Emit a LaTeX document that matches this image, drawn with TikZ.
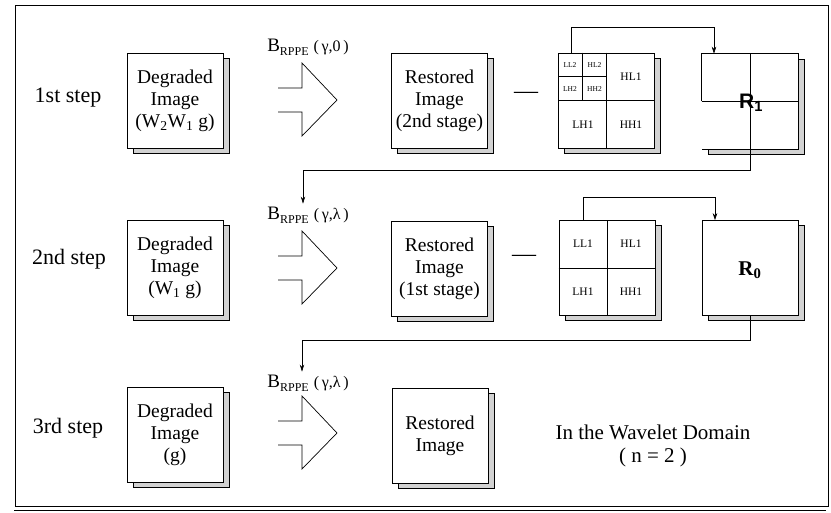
\documentclass[tikz,border=0pt]{standalone}
\usepackage{fontspec}
\setmainfont{Liberation Serif}
\newfontfamily\sansR{Liberation Sans}
\usetikzlibrary{shadows,arrows.meta,calc}
\begin{document}
\begin{tikzpicture}[x=1pt,y=-1pt,
  pagebox/.style={draw, fill=white, line width=0.6pt, inner sep=0pt,
    minimum width=96pt, minimum height=95pt, align=center,
    font=\fontsize{19.5}{22}\selectfont,
    general shadow={shadow xshift=6pt, shadow yshift=-5pt, fill=gray!35, draw=black, line width=0.8pt}},
  steplabel/.style={font=\fontsize{22}{22}\selectfont, inner sep=0pt},
  bandbig/.style={font=\fontsize{11.5}{11.5}\selectfont, inner sep=0pt},
  bandsmall/.style={font=\fontsize{7.5}{7.5}\selectfont, inner sep=0pt},
  opname/.style={inner sep=0pt},
  divider/.style={line width=0.6pt},
  conn/.style={line width=0.6pt, -{Stealth[length=7pt,width=4.5pt]}},
  bigarrow/.style={line width=0.7pt},
  minus/.style={font=\fontsize{24}{24}\selectfont, inner sep=0pt}
]
\useasboundingbox (0,0) rectangle (831,513);
% outer frame
\draw[line width=0.6pt] (15,5) rectangle (828,506);
\draw[line width=1.2pt] (14,510.5) -- (826,510.5);

\newcommand{\bop}[1]{{\fontsize{19}{19}\selectfont B}{\fontsize{12}{12}\selectfont\raisebox{-4pt}{RPPE}}\hspace{5pt}{\fontsize{16}{16}\selectfont(\,#1\,)}}

% ---------- row 1 ----------
\node[steplabel] (s1) at (68,98) {1st step};
\node[pagebox] (d1) at (175,100.5) {Degraded\\Image\\(W\textsubscript{2}W\textsubscript{1} g)};
\node[opname] (b1) at (308,47) {\bop{γ,0}};
\coordinate (a1) at (278,100);
\draw[bigarrow] (a1) ++(0,-12) -- ++(24,0) -- ++(0,-25) -- ++(35,37) -- ++(-35,36) -- ++(0,-24) -- ++(-24,0);
\node[pagebox] (r1) at (439.5,100.5) {Restored\\Image\\(2nd stage)};
\node[minus] (m1) at (526,95) {—};
\node[pagebox] (w1) at (606.5,100.5) {};
\draw[divider] (w1.north) -- (w1.south);
\draw[divider] (w1.west) -- (w1.east);
\draw[divider] ($(w1.north west)!0.5!(w1.north)$) -- ($(w1.west)!0.5!(w1.center)$);
\draw[divider] ($(w1.north west)!0.5!(w1.west)$) -- ($(w1.north)!0.5!(w1.center)$);
\node[bandsmall] (ll2) at (570,65) {LL2};
\node[bandsmall] (hl2) at (594.5,65) {HL2};
\node[bandsmall] (lh2) at (570,89) {LH2};
\node[bandsmall] (hh2) at (594.5,89) {HH2};
\node[bandbig] (hl1a) at (631,77) {HL1};
\node[bandbig] (lh1a) at (583,125) {LH1};
\node[bandbig] (hh1a) at (631,125) {HH1};
\node[pagebox, draw=none] (q1) at (750,101.5) {};
\draw[line width=0.6pt] (q1.west) -- (q1.north west) -- (q1.north east) -- (q1.south east) -- (q1.south west);
\draw[divider] (q1.north) -- (q1.south);
\draw[divider] (q1.west) -- (q1.east);
\node[font=\sansR\bfseries\fontsize{21}{21}\selectfont, inner sep=0pt] (l1) at (751,103) {R\textsubscript{1}};
\draw[conn] ([xshift=-35.5pt]w1.north) -- ++(0,-25) -| ([xshift=-36pt]q1.north);

% ---------- row 2 ----------
\node[steplabel] (s2) at (69,259) {2nd step};
\node[pagebox] (d2) at (175,268) {Degraded\\Image\\(W\textsubscript{1} g)};
\node[opname] (b2) at (308,215) {\bop{γ,λ}};
\coordinate (a2) at (278,268);
\draw[bigarrow] (a2) ++(0,-12) -- ++(24,0) -- ++(0,-25) -- ++(35,37) -- ++(-35,36) -- ++(0,-24) -- ++(-24,0);
\node[pagebox] (r2) at (439.5,269) {Restored\\Image\\(1st stage)};
\node[minus] (m2) at (524,258) {—};
\node[pagebox] (w2) at (607,268) {};
\draw[divider] (w2.north) -- (w2.south);
\draw[line width=0.4pt] (w2.west) -- (w2.east);
\node[bandbig] (ll1) at (583,244) {LL1};
\node[bandbig] (hl1b) at (631,244) {HL1};
\node[bandbig] (lh1b) at (583,292) {LH1};
\node[bandbig] (hh1b) at (631,292) {HH1};
\node[pagebox] (q0) at (750.5,268) {};
\node[font=\bfseries\fontsize{21}{21}\selectfont, inner sep=0pt] (l0) at (750,270) {R\textsubscript{0}};
\draw[conn] ([xshift=-24pt]w2.north) -- ++(0,-23) -| ([xshift=-35.5pt]q0.north);
\draw[conn] (q1.south) -- ++(0,21) -| ([xshift=-5pt,yshift=3pt]b2.north);

% ---------- row 3 ----------
\node[steplabel] (s3) at (68,428) {3rd step};
\node[pagebox] (d3) at (175,434.5) {Degraded\\Image\\(g)};
\node[opname] (b3) at (308,383) {\bop{γ,λ}};
\coordinate (a3) at (278,433);
\draw[bigarrow] (a3) ++(0,-12) -- ++(24,0) -- ++(0,-25) -- ++(35,37) -- ++(-35,36) -- ++(0,-24) -- ++(-24,0);
\node[pagebox] (r3) at (440,435.5) {Restored\\Image};
\node[font=\fontsize{21}{23}\selectfont, align=center, inner sep=0pt] (wd) at (653,446) {In the Wavelet Domain\\( n = 2 )};
\draw[conn] (q0.south) -- ++(0,25) -| ([xshift=-6pt,yshift=3pt]b3.north);
\end{tikzpicture}
\end{document}
